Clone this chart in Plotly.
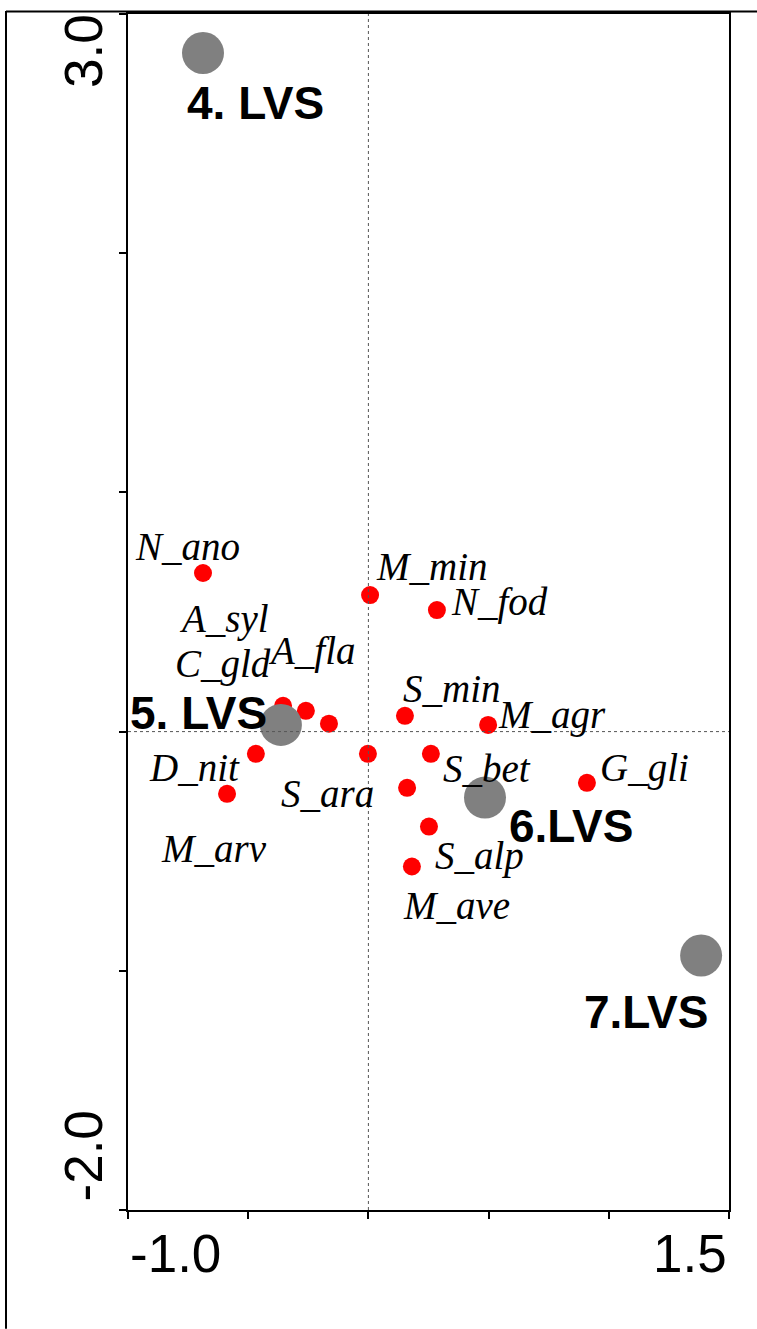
import plotly.graph_objects as go

# ---- data ----
species = ["N_ano", "M_min", "N_fod", "A_syl", "C_gld", "A_fla", "S_min", "M_agr",
           "D_nit", "M_arv", "S_ara", "S_bet", "", "G_gli", "S_alp", "M_ave"]
species_x = [-0.688, 0.007, 0.285, -0.260, -0.355, -0.164, 0.152, 0.498,
             -0.468, -0.588, -0.002, 0.260, 0.161, 0.909, 0.252, 0.181]
species_y = [0.663, 0.571, 0.508, 0.087, 0.108, 0.033, 0.066, 0.028,
             -0.093, -0.260, -0.093, -0.093, -0.235, -0.214, -0.397, -0.564]

sites = ["4. LVS", "5. LVS", "6.LVS", "7.LVS"]
sites_x = [-0.688, -0.364, 0.485, 1.384]
sites_y = [2.837, 0.028, -0.276, -0.936]

x_ticks = [-1.0, -0.5, 0.0, 0.5, 1.0, 1.5]
y_ticks = [-2.0, -1.0, 0.0, 1.0, 2.0, 3.0]
x_tick_labels = {-1.0: "-1.0", 1.5: "1.5"}
y_tick_labels = {3.0: "3.0", -2.0: "-2.0"}

# ---- styling (label offsets in pixels, screen dx, dy) ----
species_offsets = [(-16, -27), (62, -29), (63, -8), (-82, -92), (-60, -42), (-17, -73),
                   (47, -27), (64, -10), (-61, 14), (-13, 55), (-40, 40), (56, 15),
                   (0, 0), (58, -15), (51, 29), (45, 39)]
site_offsets = [(52, 50), (-82, -12), (86, 28), (-55, 57)]

fig = go.Figure()
fig.add_trace(go.Scatter(x=species_x, y=species_y, mode="markers",
                         marker=dict(size=18, color="#FF0000", line=dict(width=0)),
                         hoverinfo="skip", showlegend=False))
fig.add_trace(go.Scatter(x=sites_x, y=sites_y, mode="markers",
                         marker=dict(size=42, color="#808080", line=dict(width=0)),
                         hoverinfo="skip", showlegend=False))

ann = []
for name, x, y, (dx, dy) in zip(species, species_x, species_y, species_offsets):
    if not name:
        continue
    ann.append(dict(x=x, y=y, xref="x", yref="y", text=name, showarrow=False,
                    xshift=dx, yshift=-dy, xanchor="center", yanchor="middle",
                    font=dict(family="Liberation Serif", size=39, color="black", style="italic")))
for name, x, y, (dx, dy) in zip(sites, sites_x, sites_y, site_offsets):
    ann.append(dict(x=x, y=y, xref="x", yref="y", text=name, showarrow=False,
                    xshift=dx, yshift=-dy, xanchor="center", yanchor="middle",
                    font=dict(family="Liberation Sans", size=46, color="black", weight="bold")))

tick_font = dict(family="Liberation Sans", size=53, color="black")
for v, t in x_tick_labels.items():
    ann.append(dict(x=v, y=0, xref="x", yref="paper", text=t, showarrow=False,
                    xanchor="left" if v == min(x_ticks) else "right", yanchor="top",
                    yshift=-12, font=tick_font))
for v, t in y_tick_labels.items():
    ann.append(dict(x=0, y=v, xref="paper", yref="y", text=t, showarrow=False,
                    textangle=-90, xanchor="center", xshift=-45,
                    yanchor="top" if v == max(y_ticks) else "bottom",
                    yshift=2 if v == max(y_ticks) else 6, font=tick_font))

shapes = [
    dict(type="line", xref="x", yref="paper", x0=0, x1=0, y0=0, y1=1,
         line=dict(color="#555555", width=1, dash="dot")),
    dict(type="line", xref="paper", yref="y", x0=0, x1=1, y0=0, y1=0,
         line=dict(color="#555555", width=1, dash="dot")),
    # outer frame (page border)
    dict(type="line", xref="paper", yref="paper", x0=(6 - 128) / 601, x1=(757 - 128) / 601,
         y0=(1210 - 9.5) / 1198, y1=(1210 - 9.5) / 1198, line=dict(color="black", width=2)),
    dict(type="line", xref="paper", yref="paper", x0=(6 - 128) / 601, x1=(6 - 128) / 601,
         y0=(1210 - 9) / 1198, y1=(1210 - 1329) / 1198, line=dict(color="black", width=2)),
]

axis_common = dict(showgrid=False, zeroline=False, showline=True, linecolor="black",
                   linewidth=2, mirror=True, ticks="outside", ticklen=7, tickwidth=2,
                   tickcolor="black", showticklabels=False)
fig.update_layout(
    width=757, height=1329,
    margin=dict(l=128, r=28, t=12, b=119),
    plot_bgcolor="white", paper_bgcolor="white",
    xaxis=dict(range=[-1.0, 1.5], tickvals=x_ticks, **axis_common),
    yaxis=dict(range=[-2.0, 3.0], tickvals=y_ticks, **axis_common),
    annotations=ann, shapes=shapes, showlegend=False,
)
fig.write_html("out.html")
